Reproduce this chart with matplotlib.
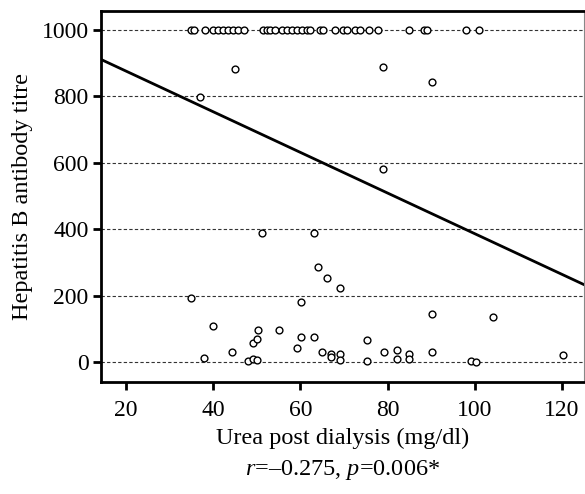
import matplotlib.pyplot as plt
import numpy as np

plt.rcParams['font.family'] = ['Liberation Serif', 'DejaVu Serif']
plt.rcParams['mathtext.fontset'] = 'custom'
plt.rcParams['mathtext.rm'] = 'Liberation Serif'
plt.rcParams['mathtext.it'] = 'Liberation Serif:italic'

# points sitting on the 1000 ceiling
top_x = [35, 35.6, 38, 40, 41, 42.3, 43.4, 44.6, 45.7, 47, 51.5, 52.4, 53, 54.2,
         55.8, 57, 58, 59.3, 60.4, 61.5, 62.2, 64.5, 65.2, 68, 69.8, 70.7, 72.6,
         73.7, 75.8, 77.8, 85, 88.4, 89, 98, 101]
top_y = [1000] * len(top_x)

# remaining points
other_x = [37, 45, 79, 90.2, 79, 51.2, 63.2, 64.1, 66.1, 69.1, 34.9, 40, 37.9,
           44.3, 48, 49.2, 50.1, 49.2, 50.1, 50.3, 55.1, 60.2, 60.2, 63.2, 59.3,
           65, 67.1, 67.1, 69.1, 69.1, 75.3, 75.3, 79.2, 82.2, 82.2, 85, 85,
           90.2, 90.2, 104.2, 99.2, 100.3, 120.2]
other_y = [798, 882, 889, 843, 581, 388, 388, 286, 253, 223, 193, 108, 12,
           30, 3, 9, 6, 57, 69, 96, 96, 181, 75, 75, 42,
           30, 24, 15, 24, 6, 66, 3, 30, 36, 9, 24, 9,
           145, 30, 136, 3, 0, 21]

# regression line
intercept = 998
slope = -6.12

x = top_x + other_x
y = top_y + other_y

fig = plt.figure(figsize=(5.85, 4.94), dpi=100)
ax = fig.add_axes([0.173, 0.227, 0.825, 0.751])

for v in [0, 200, 400, 600, 800, 1000]:
    ax.axhline(v, color='#333333', linestyle=(0, (3, 2)), linewidth=0.8, zorder=1)

ax.scatter(x, y, s=24, facecolors='white', edgecolors='black', linewidths=1.0, zorder=3)

xl = np.array([14.3, 125])
ax.plot(xl, intercept + slope * xl, color='black', linewidth=2, zorder=2)

ax.set_xlim(14.3, 125)
ax.set_ylim(-60, 1057)
ax.set_xticks([20, 40, 60, 80, 100, 120])
ax.set_yticks([0, 200, 400, 600, 800, 1000])
ax.tick_params(direction='out', length=6, width=2, labelsize=17)
ax.tick_params(axis='x', pad=7)
ax.tick_params(axis='y', pad=3)

for s in ['left', 'bottom', 'top']:
    ax.spines[s].set_linewidth(2)
ax.spines['right'].set_linewidth(0.8)
ax.spines['right'].set_color('#888888')

ax.set_ylabel('Hepatitis B antibody titre', fontsize=17.5, labelpad=6)
ax.set_xlabel('Urea post dialysis (mg/dl)', fontsize=17.5, labelpad=5)
fig.text(0.585, 0.049, r'$\it{r}$=–0.275, $\it{p}$=0.006*', fontsize=17.5,
         ha='center', va='center')

plt.savefig('out.png', dpi=100)
